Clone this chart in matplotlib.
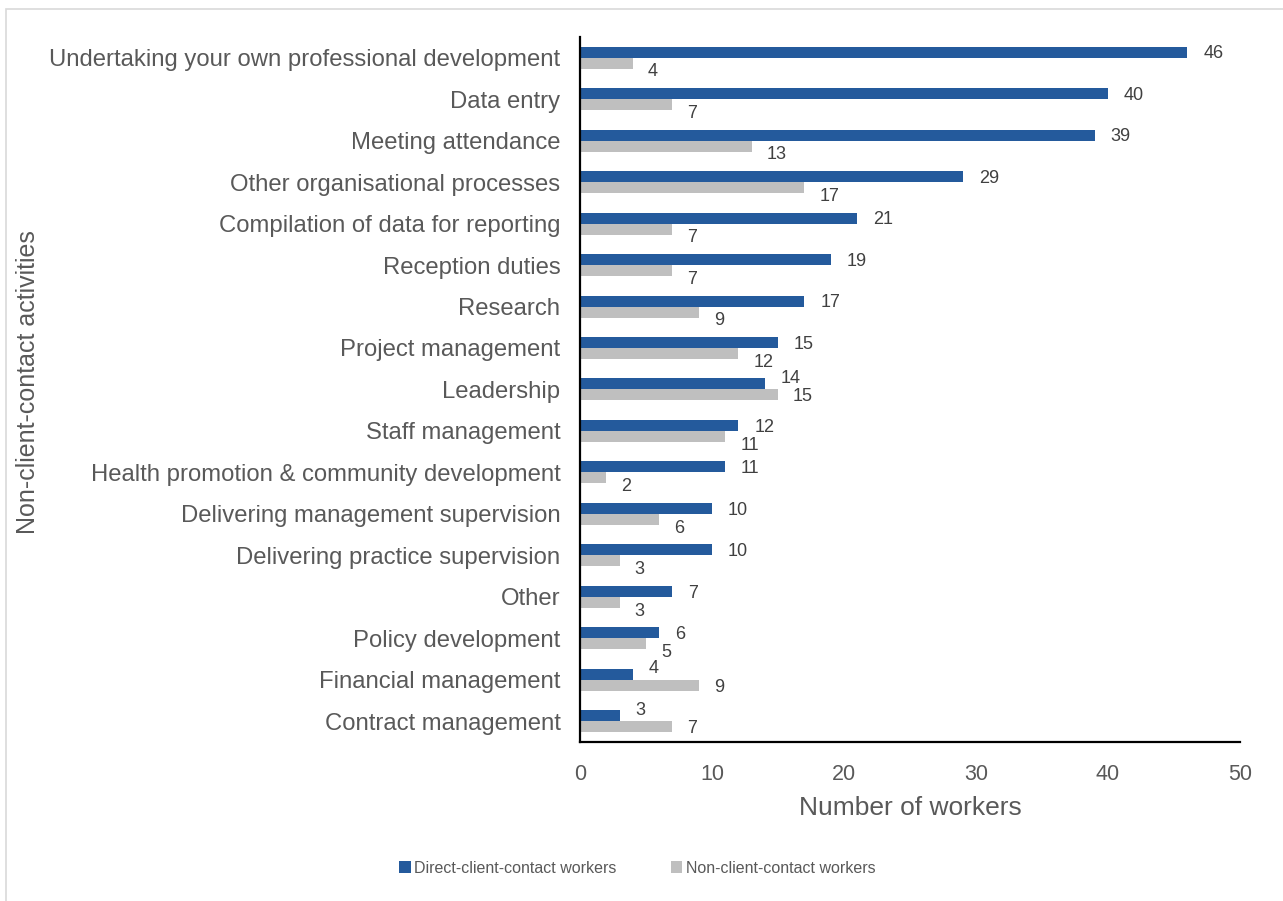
import matplotlib

matplotlib.use("Agg")
import matplotlib.pyplot as plt
import numpy as np
from matplotlib.patches import Rectangle

plt.rcParams["font.family"] = ["Liberation Sans", "DejaVu Sans"]

TEXT_COLOR = "#595959"
BLUE = "#245a9c"
GREY = "#bfbfbf"

activities = [
    "Undertaking your own professional development",
    "Data entry",
    "Meeting attendance",
    "Other organisational processes",
    "Compilation of data for reporting",
    "Reception duties",
    "Research",
    "Project management",
    "Leadership",
    "Staff management",
    "Health promotion & community development",
    "Delivering management supervision",
    "Delivering practice supervision",
    "Other",
    "Policy development",
    "Financial management",
    "Contract management",
]
direct_contact = [46, 40, 39, 29, 21, 19, 17, 15, 14, 12, 11, 10, 10, 7, 6, 4, 3]
non_contact = [4, 7, 13, 17, 7, 7, 9, 12, 15, 11, 2, 6, 3, 3, 5, 9, 7]

fig = plt.figure(figsize=(12.83, 9.01), dpi=100)
ax = fig.add_axes([0.452, 0.1765, 0.5145, 0.7825])

# outer chart frame
fig.patches.append(Rectangle((6 / 1283, -0.1), 1.2, (901 - 9) / 901 + 0.1,
                             transform=fig.transFigure, fill=False,
                             edgecolor="#d9d9d9", linewidth=1.2))

y = np.arange(len(activities))
h = 0.265
b1 = ax.barh(y - h / 2, direct_contact, height=h, color=BLUE,
             label="Direct-client-contact workers")
b2 = ax.barh(y + h / 2, non_contact, height=h, color=GREY,
             label="Non-client-contact workers")

# value labels: the label of the shorter bar is nudged away from the longer one
for bd, bn, vd, vn in zip(b1, b2, direct_contact, non_contact):
    if vd >= vn:
        dy_d, dy_n = -1.3, -6.3
    else:
        dy_d, dy_n = 3.8, -1.3
    ax.annotate(str(vd), (bd.get_width(), bd.get_y() + bd.get_height() / 2),
                xytext=(11.5, dy_d), textcoords="offset points", ha="left",
                va="center", fontsize=13, color="#404040")
    ax.annotate(str(vn), (bn.get_width(), bn.get_y() + bn.get_height() / 2),
                xytext=(10.8, dy_n), textcoords="offset points", ha="left",
                va="center", fontsize=13, color="#404040")

ax.set_ylim(len(activities) - 0.5, -0.5)
ax.set_xlim(0, 50)
ax.set_xticks(range(0, 51, 10))
ax.set_yticks(y)
ax.set_yticklabels(activities)
ax.tick_params(axis="y", length=0, pad=14, labelsize=17.2, labelcolor=TEXT_COLOR)
ax.tick_params(axis="x", length=0, pad=16, labelsize=15.5, labelcolor=TEXT_COLOR)

for side in ("top", "right"):
    ax.spines[side].set_visible(False)
ax.spines["left"].set_linewidth(1.6)
ax.spines["bottom"].set_linewidth(1.6)

ax.set_xlabel("Number of workers", fontsize=19, color=TEXT_COLOR, labelpad=8)
fig.text(0.022, 0.5765, "Non-client-contact activities", rotation=90,
         ha="center", va="center", fontsize=18, color=TEXT_COLOR)

fig.legend(handles=[b1, b2], loc="center", bbox_to_anchor=(0.497, 0.0365),
           ncol=2, frameon=False, fontsize=11.5, labelcolor=TEXT_COLOR,
           handlelength=0.7, handleheight=0.7, handletextpad=0.25,
           columnspacing=3.4)

fig.savefig("out.png", dpi=100)
plt.close(fig)
